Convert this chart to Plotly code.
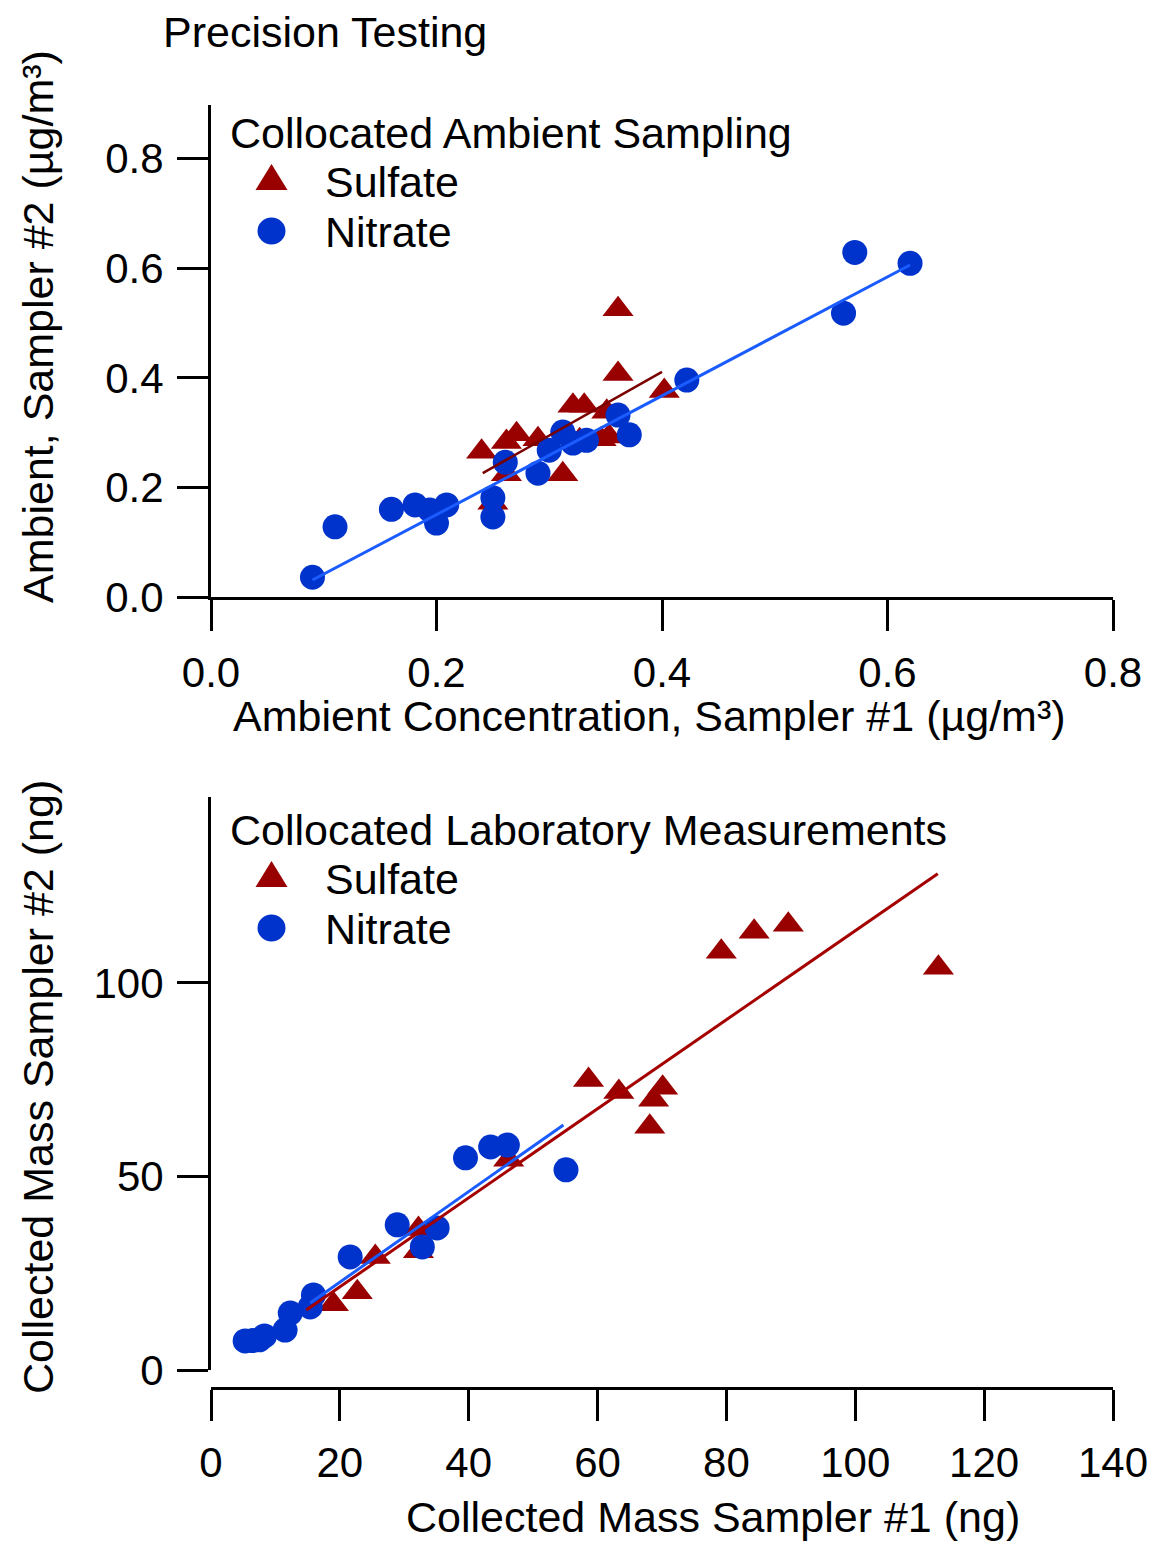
import plotly.graph_objects as go

W, H = 1165, 1541

# ---------------- data: top panel (ambient, µg/m³) ----------------
amb_sulfate_x = [0.240, 0.262, 0.271, 0.290, 0.312, 0.321, 0.331, 0.351, 0.346, 0.353,
                 0.262, 0.250, 0.327, 0.361, 0.361, 0.402]
amb_sulfate_y = [0.265, 0.283, 0.297, 0.288, 0.224, 0.349, 0.349, 0.338, 0.288, 0.293,
                 0.224, 0.172, 0.286, 0.525, 0.407, 0.376]
amb_nitrate_x = [0.090, 0.110, 0.160, 0.181, 0.194, 0.200, 0.209, 0.250, 0.250, 0.261,
                 0.290, 0.300, 0.312, 0.321, 0.333, 0.361, 0.371, 0.422, 0.561, 0.571, 0.620]
amb_nitrate_y = [0.036, 0.128, 0.160, 0.168, 0.159, 0.135, 0.168, 0.181, 0.146, 0.246,
                 0.226, 0.268, 0.301, 0.281, 0.286, 0.332, 0.296, 0.396, 0.518, 0.629, 0.609]
amb_sulfate_fit_x = [0.241, 0.400]
amb_sulfate_fit_y = [0.226, 0.411]
amb_nitrate_fit_x = [0.090, 0.620]
amb_nitrate_fit_y = [0.031, 0.606]

# ---------------- data: bottom panel (laboratory, ng) ----------------
lab_sulfate_x = [19.0, 22.7, 25.5, 32.2, 32.2, 46.2, 58.6, 63.3, 68.1, 68.7, 70.1,
                 79.2, 84.3, 89.6, 112.9]
lab_sulfate_y = [17.0, 20.1, 29.2, 36.4, 30.7, 54.3, 74.9, 71.8, 62.8, 69.8, 72.9,
                 108.0, 113.2, 115.0, 103.9]
lab_nitrate_x = [5.3, 6.5, 7.5, 8.3, 11.5, 12.3, 15.4, 15.9, 21.6, 28.9, 32.8, 35.1,
                 39.5, 43.4, 46.0, 55.1]
lab_nitrate_y = [7.5, 7.6, 7.8, 8.8, 10.3, 14.7, 16.3, 19.4, 29.2, 37.5, 31.8, 36.7,
                 54.8, 57.6, 58.1, 51.7]
lab_sulfate_fit_x = [14.8, 112.8]
lab_sulfate_fit_y = [15.5, 128.2]
lab_nitrate_fit_x = [15.4, 54.7]
lab_nitrate_fit_y = [17.3, 63.3]

amb_xticks = [0.0, 0.2, 0.4, 0.6, 0.8]
amb_yticks = [0.0, 0.2, 0.4, 0.6, 0.8]
lab_xticks = [0, 20, 40, 60, 80, 100, 120, 140]
lab_yticks = [0, 50, 100]

# ---------------- styles ----------------
SULF = "#990000"
NITR = "#0033CC"
NITR_LINE = "#1a5cff"
SULF_LINE_TOP = "#7a0000"
SULF_LINE_BOT = "#a50000"
FONT = "Liberation Sans, Arial, Helvetica, sans-serif"
FS = 43
TFS = 42


def px(x):
    return x / W


def py(y):
    return 1 - y / H


fig = go.Figure()

# top panel traces
fig.add_trace(go.Scatter(x=amb_sulfate_x, y=amb_sulfate_y, mode="markers", name="Sulfate",
                         marker=dict(symbol="triangle-up", size=27, color=SULF),
                         xaxis="x", yaxis="y", cliponaxis=False, showlegend=False))
fig.add_trace(go.Scatter(x=amb_nitrate_x, y=amb_nitrate_y, mode="markers", name="Nitrate",
                         marker=dict(symbol="circle", size=25, color=NITR),
                         xaxis="x", yaxis="y", cliponaxis=False, showlegend=False))
fig.add_trace(go.Scatter(x=amb_sulfate_fit_x, y=amb_sulfate_fit_y, mode="lines",
                         line=dict(color=SULF_LINE_TOP, width=2.5),
                         xaxis="x", yaxis="y", showlegend=False))
fig.add_trace(go.Scatter(x=amb_nitrate_fit_x, y=amb_nitrate_fit_y, mode="lines",
                         line=dict(color=NITR_LINE, width=3),
                         xaxis="x", yaxis="y", showlegend=False))

# bottom panel traces
fig.add_trace(go.Scatter(x=lab_sulfate_x, y=lab_sulfate_y, mode="markers", name="Sulfate",
                         marker=dict(symbol="triangle-up", size=27, color=SULF),
                         xaxis="x2", yaxis="y2", cliponaxis=False, showlegend=False))
fig.add_trace(go.Scatter(x=lab_nitrate_x, y=lab_nitrate_y, mode="markers", name="Nitrate",
                         marker=dict(symbol="circle", size=25, color=NITR),
                         xaxis="x2", yaxis="y2", cliponaxis=False, showlegend=False))
fig.add_trace(go.Scatter(x=lab_nitrate_fit_x, y=lab_nitrate_fit_y, mode="lines",
                         line=dict(color=NITR_LINE, width=3),
                         xaxis="x2", yaxis="y2", showlegend=False))
fig.add_trace(go.Scatter(x=lab_sulfate_fit_x, y=lab_sulfate_fit_y, mode="lines",
                         line=dict(color=SULF_LINE_BOT, width=3),
                         xaxis="x2", yaxis="y2", showlegend=False))

axis_common = dict(showgrid=False, zeroline=False, showline=True, linecolor="black",
                   linewidth=3, ticks="outside", ticklen=31, tickwidth=3, tickcolor="black",
                   tickfont=dict(family=FONT, size=TFS, color="black"), automargin=False,
                   fixedrange=True)

fig.update_layout(
    width=W, height=H,
    margin=dict(l=0, r=0, t=0, b=0),
    paper_bgcolor="white", plot_bgcolor="white",
    showlegend=False,
    font=dict(family=FONT, size=FS, color="black"),
    xaxis=dict(domain=[px(211), px(1113)], range=[0, 0.8], anchor="y",
               tickvals=amb_xticks, tickformat=".1f", ticklabelstandoff=6, **axis_common),
    yaxis=dict(domain=[py(597), py(105)], range=[0, 0.898], anchor="x",
               tickvals=amb_yticks, tickformat=".1f", ticklabelstandoff=5, **axis_common),
    xaxis2=dict(domain=[px(211), px(1113)], range=[0, 140], anchor="free", position=py(1388),
                tickvals=lab_xticks, ticklabelstandoff=6, **axis_common),
    yaxis2=dict(domain=[py(1370), py(797)], range=[0, 148], anchor="x2",
                tickvals=lab_yticks, ticklabelstandoff=5, **axis_common),
)

ann = []
shapes = []


def text(x, y, s, xanchor="left", angle=0, size=FS, color="black"):
    ann.append(dict(x=px(x), y=py(y), xref="paper", yref="paper", text=s, showarrow=False,
                    xanchor=xanchor, yanchor="middle", textangle=angle,
                    font=dict(family=FONT, size=size, color=color)))


# title
text(161, 32, "Precision Testing")
# axis titles
text(650, 716, "Ambient Concentration, Sampler #1 (µg/m³)", xanchor="center")
text(38, 327, "Ambient, Sampler #2 (µg/m³)", xanchor="center", angle=-90)
text(713, 1517, "Collected Mass Sampler #1 (ng)", xanchor="center")
text(38, 1087, "Collected Mass Sampler #2 (ng)", xanchor="center", angle=-90)

# legends (keys drawn as paper-space shapes, labels as text)
for (title, ty) in [("Collocated Ambient Sampling", 133), ("Collocated Laboratory Measurements", 830)]:
    text(228, ty, title)
    # triangle key
    apex_y, base_y = ty + 31, ty + 57
    shapes.append(dict(type="path", xref="paper", yref="paper",
                       path=f"M {px(271.5)},{py(apex_y)} L {px(287.5)},{py(base_y)} "
                            f"L {px(255.5)},{py(base_y)} Z",
                       fillcolor=SULF, line=dict(width=0)))
    text(323, ty + 49, "Sulfate")
    # circle key
    cy = ty + 98
    shapes.append(dict(type="circle", xref="paper", yref="paper",
                       x0=px(257.5), x1=px(285.5), y0=py(cy + 13.5), y1=py(cy - 13.5),
                       fillcolor=NITR, line=dict(width=0)))
    text(323, ty + 99, "Nitrate")

fig.update_layout(annotations=ann, shapes=shapes)

fig.write_html("out.html")
